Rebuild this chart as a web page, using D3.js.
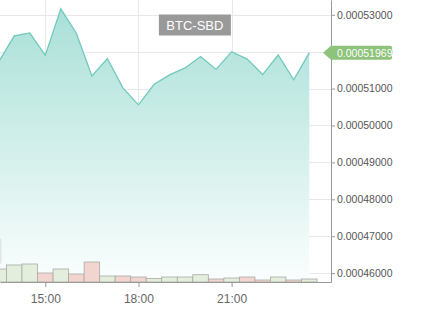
<!DOCTYPE html>
<head>
  <meta charset="utf-8">
  <style>
    body { margin: 0; background: #fff; }
    svg text { font-family: "Liberation Sans", Arial, sans-serif; }
    svg .grid line { stroke: #e8e8e8; stroke-width: 1px; }
    svg .axis path, svg .axis line { stroke: #999; }
    svg .axis text { fill: #555; }
  </style>
</head>

<body>
<script src="https://cdn.jsdelivr.net/npm/d3@7"></script>

<script>
  // half-hour samples, 13:30 .. 23:30
  var times = ["13:30", "14:00", "14:30", "15:00", "15:30", "16:00", "16:30", "17:00",
               "17:30", "18:00", "18:30", "19:00", "19:30", "20:00", "20:30", "21:00",
               "21:30", "22:00", "22:30", "23:00", "23:30"];
  var prices = [0.0005172, 0.0005243, 0.0005251, 0.0005190, 0.0005316, 0.0005250, 0.0005134,
                0.0005181, 0.0005102, 0.0005056, 0.0005111, 0.0005137, 0.0005156, 0.0005187,
                0.0005152, 0.0005200, 0.0005180, 0.0005138, 0.0005191, 0.0005124, 0.00051969];
  var volumes = [1300, 1700, 1800, 900, 1300, 800, 2000, 600, 600, 500, 360,
                 500, 500, 730, 300, 400, 500, 200, 500, 200, 300];
  var volumeUp = [1, 1, 1, 0, 1, 0, 0, 1, 0, 0, 1, 1, 1, 1, 0, 1, 0, 0, 1, 0, 1];
  var priceTicks = [0.00046, 0.00047, 0.00048, 0.00049, 0.00050, 0.00051, 0.00052, 0.00053];
  var timeTicks = ["15:00", "18:00", "21:00"];
  var pair = "BTC-SBD";
  var lastPrice = "0.00051969";

  var W = 427, H = 316;
  var plotW = 331, plotH = 282;

  function toDate(s) {
    var p = s.split(":");
    return new Date(Date.UTC(2018, 0, 10, +p[0], +p[1]));
  }
  var data = times.map(function (t, i) {
    return { t: toDate(t), p: prices[i], v: volumes[i], up: volumeUp[i] };
  });

  var svg = d3.select("body").append("svg")
      .attr("width", W)
      .attr("height", H);

  var defs = svg.append("defs");
  defs.append("clipPath").attr("id", "plotclip")
    .append("rect").attr("x", 0).attr("y", 0).attr("width", plotW).attr("height", plotH);

  var grad = defs.append("linearGradient").attr("id", "areagrad")
      .attr("gradientUnits", "userSpaceOnUse")
      .attr("x1", 0).attr("y1", 0).attr("x2", 0).attr("y2", plotH);
  grad.append("stop").attr("offset", "0").attr("stop-color", "#a6dfd6");
  grad.append("stop").attr("offset", "1").attr("stop-color", "#fbfefe");

  // scales
  var xScale = d3.scaleUtc()
      .domain([new Date(Date.UTC(2018, 0, 10, 13, 32, 30)), new Date(Date.UTC(2018, 0, 11, 0, 12, 0))])
      .range([0, plotW]);
  var yScale = d3.scaleLinear().domain([0.0004576, 0.000534]).range([plotH, 0]);
  var vScale = d3.scaleLinear().domain([0, 10000]).range([plotH, plotH - 100]);

  // grid
  svg.append("g").classed("grid", true)
    .selectAll("line.h").data(priceTicks).enter().append("line")
      .attr("x1", 0).attr("x2", plotW)
      .attr("y1", function (d) { return Math.round(yScale(d)) + 0.5; })
      .attr("y2", function (d) { return Math.round(yScale(d)) + 0.5; });
  svg.select("g.grid")
    .selectAll("line.v").data(timeTicks).enter().append("line")
      .attr("y1", 0).attr("y2", plotH)
      .attr("x1", function (d) { return Math.round(xScale(toDate(d))) + 0.5; })
      .attr("x2", function (d) { return Math.round(xScale(toDate(d))) + 0.5; });

  var plot = svg.append("g").attr("clip-path", "url(#plotclip)");

  // price area + line
  var area = d3.area()
      .x(function (d) { return xScale(d.t); })
      .y0(plotH)
      .y1(function (d) { return yScale(d.p); });
  var line = d3.line()
      .x(function (d) { return xScale(d.t); })
      .y(function (d) { return yScale(d.p); });

  plot.append("path")
    .attr("d", area(data))
    .style("fill", "url(#areagrad)");
  plot.append("path")
    .attr("d", line(data))
    .style("fill", "none")
    .style("stroke", "#70c9bb")
    .style("stroke-width", "1.3px");

  // volume bars (30 min wide)
  var barW = xScale(toDate("15:30")) - xScale(toDate("15:00"));
  plot.selectAll("rect.vol").data(data).enter().append("rect")
    .attr("x", function (d) { return xScale(d.t) - barW / 2; })
    .attr("width", barW)
    .attr("y", function (d) { return vScale(d.v); })
    .attr("height", function (d) { return plotH - vScale(d.v); })
    .style("fill", function (d) { return d.up ? "#e3eedd" : "#f2d5ce"; })
    .style("stroke", "#a9aaa6")
    .style("stroke-width", "0.8px");

  // scroll handle remnant at left
  svg.append("rect")
    .attr("x", -4).attr("y", 238).attr("width", 5.5).attr("height", 26).attr("rx", 2)
    .style("fill", "#e4e4e4");

  // x axis
  var xAxis = d3.axisBottom(xScale)
      .tickValues(timeTicks.map(toDate))
      .tickFormat(d3.utcFormat("%H:%M"))
      .tickSize(5)
      .tickSizeOuter(0);
  var xa = svg.append("g").classed("axis", true)
      .attr("transform", "translate(0," + plotH + ")")
      .call(xAxis);
  xa.selectAll("text").style("font-size", "12px").attr("dy", "1.05em").style("fill", "#666");

  // y axis
  var yAxis = d3.axisRight(yScale)
      .tickValues(priceTicks)
      .tickFormat(d3.format(".8f"))
      .tickSize(4)
      .tickSizeOuter(0);
  var ya = svg.append("g").classed("axis", true)
      .attr("transform", "translate(" + plotW + ",0)")
      .call(yAxis);
  ya.selectAll("text").style("font-size", "10.5px").attr("x", 6).style("fill", "#555");

  // pair title
  var tx = xScale(toDate("19:49"));
  svg.append("rect")
    .attr("x", tx - 36).attr("y", 14.5).attr("width", 72).attr("height", 21)
    .style("fill", "#999");
  svg.append("text")
    .attr("x", tx).attr("y", 29.5)
    .text(pair)
    .style("text-anchor", "middle")
    .style("font-size", "13px")
    .style("fill", "#fff");

  // last price tag
  var ly = yScale(prices[prices.length - 1]);
  svg.append("path")
    .attr("d", "M" + (plotW - 8) + "," + ly +
               " L" + (plotW) + "," + (ly - 7) +
               " L" + (plotW + 59) + "," + (ly - 7) +
               " Q" + (plotW + 61) + "," + (ly - 7) + " " + (plotW + 61) + "," + (ly - 5) +
               " L" + (plotW + 61) + "," + (ly + 5) +
               " Q" + (plotW + 61) + "," + (ly + 7) + " " + (plotW + 59) + "," + (ly + 7) +
               " L" + (plotW) + "," + (ly + 7) + " Z")
    .style("fill", "#8dc37a");
  svg.append("text")
    .attr("x", plotW + 6).attr("y", ly + 3.8)
    .text(lastPrice)
    .style("font-size", "10.5px")
    .style("fill", "#fff");
</script>
</body>
</html>
